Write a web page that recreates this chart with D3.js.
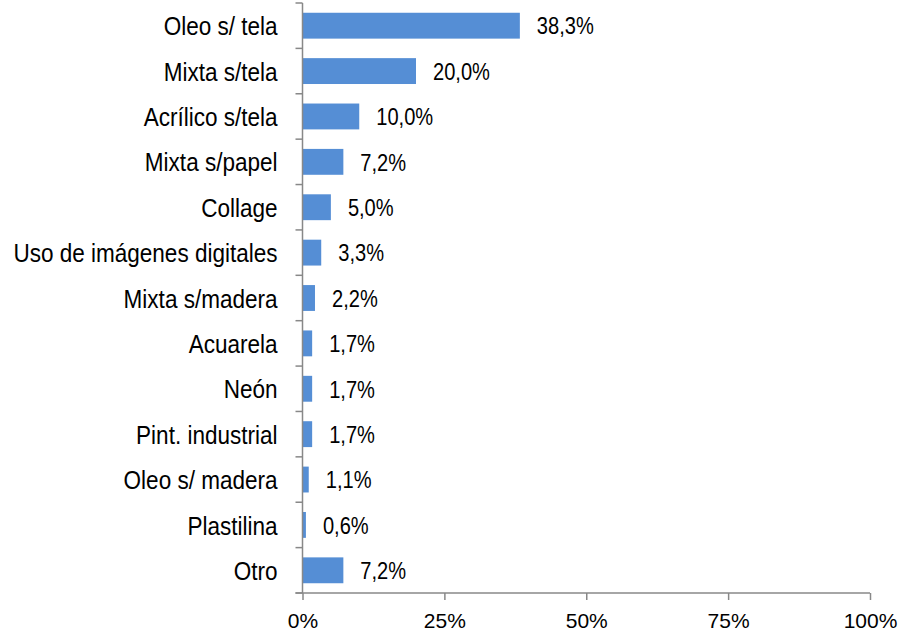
<!DOCTYPE html>
<html>
<head>
<meta charset="utf-8">
<script src="https://cdn.jsdelivr.net/npm/d3@7"></script>
<style>
  html, body { margin: 0; padding: 0; background: #ffffff; }
  svg { display: block; font-family: "Liberation Sans", Arial, sans-serif; }
</style>
</head>
<body>
<svg id="chart" width="904" height="634"></svg>
<script>
// Técnicas utilizadas (% de obras)
const categories = [
  "Oleo s/ tela", "Mixta s/tela", "Acrílico s/tela", "Mixta s/papel", "Collage",
  "Uso de imágenes digitales", "Mixta s/madera", "Acuarela", "Neón",
  "Pint. industrial", "Oleo s/ madera", "Plastilina", "Otro"
];
const values = [38.3, 20.0, 10.0, 7.2, 5.0, 3.3, 2.2, 1.7, 1.7, 1.7, 1.1, 0.6, 7.2];
const tickValues = [0, 25, 50, 75, 100];

const svg = d3.select("#chart");
const plot = { left: 302.5, right: 870, top: 3, bottom: 593 };
const axisColor = "#888888";
const barColor = "#558ED5";

const x = d3.scaleLinear().domain([0, 100]).range([plot.left, plot.right]);
const y = d3.scaleBand().domain(categories).range([plot.top, plot.bottom])
  .paddingInner(0.43).paddingOuter(0.215);

const fmt = v => d3.format(".1f")(v).replace(".", ",") + "%";

// Bars
svg.append("g").selectAll("rect")
  .data(values)
  .join("rect")
  .attr("x", x(0))
  .attr("y", (d, i) => y(categories[i]))
  .attr("width", d => x(d) - x(0))
  .attr("height", y.bandwidth())
  .attr("fill", barColor);

// Value labels (condensed)
svg.append("g").selectAll("text")
  .data(values)
  .join("text")
  .attr("transform", (d, i) =>
    `translate(${x(d) + 17},${y(categories[i]) + y.bandwidth() / 2 + 8.8}) scale(0.82,1)`)
  .attr("font-size", 24.5)
  .attr("fill", "#000")
  .text(d => fmt(d));

// Category axis: line with boundary ticks pointing outward
const step = (plot.bottom - plot.top) / categories.length;
const gy = svg.append("g");
gy.append("line")
  .attr("x1", plot.left).attr("x2", plot.left)
  .attr("y1", plot.top).attr("y2", plot.bottom)
  .attr("stroke", axisColor).attr("stroke-width", 1.5);
gy.selectAll("line.tick")
  .data(d3.range(categories.length + 1))
  .join("line")
  .attr("class", "tick")
  .attr("x1", plot.left - 7).attr("x2", plot.left)
  .attr("y1", i => plot.top + i * step).attr("y2", i => plot.top + i * step)
  .attr("stroke", axisColor).attr("stroke-width", 1.5);
gy.selectAll("text")
  .data(categories)
  .join("text")
  .attr("transform", d => `translate(${plot.left - 25},${y(d) + y.bandwidth() / 2 + 9.6}) scale(0.85,1)`)
  .attr("text-anchor", "end")
  .attr("font-size", 26.5)
  .attr("fill", "#000")
  .text(d => d);

// Value axis
const xAxis = d3.axisBottom(x)
  .tickValues(tickValues)
  .tickSize(7)
  .tickPadding(8)
  .tickFormat(d => d + "%");
const gx = svg.append("g")
  .attr("transform", `translate(0,${plot.bottom})`)
  .call(xAxis);
gx.select(".domain").remove();
gx.insert("line", ":first-child")
  .attr("x1", plot.left - 7).attr("x2", plot.right)
  .attr("stroke", axisColor).attr("stroke-width", 1.5);
gx.selectAll(".tick line").attr("stroke", axisColor).attr("stroke-width", 1.5);
gx.selectAll(".tick text")
  .attr("font-size", 21)
  .attr("font-family", "'Liberation Sans', Arial, sans-serif")
  .attr("fill", "#000")
  .attr("dy", "0")
  .attr("y", 35);
</script>
</body>
</html>
